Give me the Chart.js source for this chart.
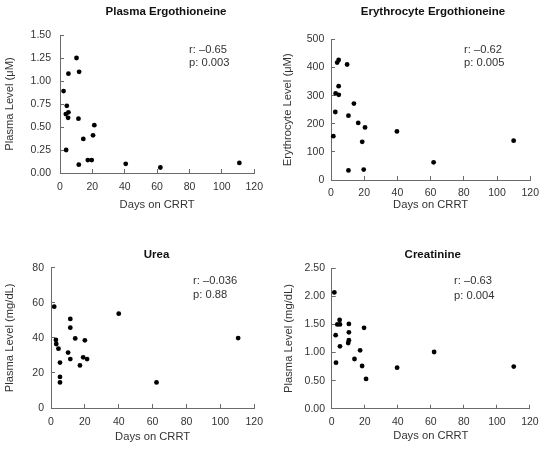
<!DOCTYPE html>
<html>
<head>
<meta charset="utf-8">
<script src="https://cdn.jsdelivr.net/npm/chart.js@4/dist/chart.umd.min.js"></script>
<style>
  html, body { margin: 0; padding: 0; background: #fff; }
  body { width: 550px; height: 449px; position: relative; overflow: hidden; }
  .panel { position: absolute; }
  canvas { display: block; }
</style>
</head>
<body>
<div class="panel" style="left:0px;top:0px;width:275px;height:215px"><canvas id="c1" width="275" height="215" style="width:275px;height:215px"></canvas></div>
<div class="panel" style="left:275px;top:0px;width:275px;height:215px"><canvas id="c2" width="275" height="215" style="width:275px;height:215px"></canvas></div>
<div class="panel" style="left:0px;top:225px;width:275px;height:224px"><canvas id="c3" width="275" height="224" style="width:275px;height:224px"></canvas></div>
<div class="panel" style="left:275px;top:225px;width:275px;height:224px"><canvas id="c4" width="275" height="224" style="width:275px;height:224px"></canvas></div>
<script>
// ---------- data ----------
const xTicks = [0, 20, 40, 60, 80, 100, 120];
const xTitle = 'Days on CRRT';

const titlePlasmaErgo = 'Plasma Ergothioneine';
const yTitlePlasmaErgo = 'Plasma Level (μM)';
const yTicksPlasmaErgo = [0, 0.25, 0.5, 0.75, 1.0, 1.25, 1.5];
const daysPlasmaErgo = [2.2, 3.8, 4.2, 3.6, 5.2, 5.0, 5.2, 10.2, 11.8, 11.4, 11.6, 14.4, 17.2, 19.6, 20.4, 21.2, 40.6, 62.0, 110.8];
const plasmaErgo     = [0.89, 0.25, 0.73, 0.64, 0.66, 0.60, 1.08, 1.25, 1.10, 0.59, 0.09, 0.37, 0.14, 0.14, 0.41, 0.52, 0.10, 0.06, 0.11];
const statsPlasmaErgo = ['r: –0.65', 'p: 0.003'];

const titleEryErgo = 'Erythrocyte Ergothioneine';
const yTitleEryErgo = 'Erythrocyte Level (μM)';
const yTicksEryErgo = [0, 100, 200, 300, 400, 500];
const daysEryErgo = [1.4, 2.6, 2.8, 3.7, 4.6, 4.6, 4.7, 9.7, 10.5, 10.5, 13.8, 16.4, 18.8, 19.7, 20.5, 39.7, 61.8, 110.0];
const eryErgo     = [156, 242, 308, 418, 427, 334, 303, 411, 229, 34, 272, 203, 136, 37, 187, 173, 63, 140];
const statsEryErgo = ['r: –0.62', 'p: 0.005'];

const titleUrea = 'Urea';
const yTitleUrea = 'Plasma Level (mg/dL)';
const yTicksUrea = [0, 20, 40, 60, 80];
const daysUrea = [1.9, 2.9, 3.1, 4.4, 5.3, 5.3, 5.3, 10.1, 11.4, 11.4, 11.4, 14.3, 17.1, 19.0, 20.0, 21.3, 40.0, 62.3, 110.5];
const urea     = [57.8, 38.8, 36.5, 33.8, 25.9, 17.7, 14.6, 31.6, 50.8, 45.8, 27.9, 39.7, 24.3, 28.9, 38.6, 27.9, 53.8, 14.6, 39.9];
const statsUrea = ['r: –0.036', 'p: 0.88'];

const titleCreat = 'Creatinine';
const yTitleCreat = 'Plasma Level (mg/dL)';
const yTicksCreat = [0, 0.5, 1.0, 1.5, 2.0, 2.5];
const daysCreat = [1.6, 2.4, 2.6, 3.4, 4.8, 5.0, 5.0, 10.4, 10.4, 10.4, 10.0, 13.8, 17.2, 18.4, 19.6, 20.8, 39.6, 62.0, 110.2];
const creat     = [2.07, 1.31, 0.82, 1.50, 1.58, 1.50, 1.11, 1.51, 1.36, 1.22, 1.17, 0.885, 1.04, 0.76, 1.44, 0.53, 0.73, 1.01, 0.75];
const statsCreat = ['r: –0.63', 'p: 0.004'];

// ---------- styling ----------
const FONT = '"Liberation Sans", Arial, Helvetica, sans-serif';
const TEXT = '#333333';
const AXIS = '#6a6a6a';

const panelText = {
  id: 'panelText',
  afterDraw(chart, args, o) {
    const ctx = chart.ctx;
    ctx.save();
    ctx.textBaseline = 'middle';
    ctx.fillStyle = '#111';
    ctx.font = 'bold 11.5px ' + FONT;
    ctx.textAlign = 'center';
    ctx.fillText(o.title, o.tx, o.ty);
    ctx.fillStyle = TEXT;
    ctx.font = '11.2px ' + FONT;
    ctx.textAlign = 'left';
    o.stats.forEach((s, i) => ctx.fillText(s, o.sx, o.sy[i]));
    ctx.restore();
  }
};

function makeChart(id, days, vals, yTicks, dec, yTitle, title, stats, L) {
  const pts = days.map((d, i) => ({ x: d, y: vals[i] }));
  return new Chart(document.getElementById(id), {
    type: 'scatter',
    data: { datasets: [{ data: pts, pointRadius: 2.4, pointHoverRadius: 2.4, backgroundColor: '#000', borderWidth: 0, showLine: false, clip: false }] },
    options: {
      responsive: false,
      animation: false,
      events: [],
      layout: { padding: { left: 0, top: L.top, right: L.right, bottom: 0 } },
      plugins: {
        legend: { display: false },
        tooltip: { enabled: false },
        title: { display: false },
        panelText: { title: title, tx: L.tx, ty: L.ty, stats: stats, sx: L.sx, sy: L.sy }
      },
      scales: {
        x: {
          type: 'linear', min: xTicks[0], max: xTicks[xTicks.length - 1],
          afterBuildTicks: s => { s.ticks = xTicks.map(v => ({ value: v })); },
          afterFit: s => { s.height = L.xh; },
          grid: { display: true, drawOnChartArea: false, drawTicks: true, tickLength: -4, tickColor: AXIS, tickWidth: 1 },
          border: { display: true, color: AXIS, width: 1 },
          ticks: { padding: L.xpad, color: TEXT, font: { family: FONT, size: 10.5 }, maxRotation: 0, callback: v => String(v) },
          title: { display: true, text: xTitle, color: TEXT, font: { family: FONT, size: 11.2 }, padding: { top: 0, bottom: L.xtb } }
        },
        y: {
          type: 'linear', min: yTicks[0], max: yTicks[yTicks.length - 1],
          afterBuildTicks: s => { s.ticks = yTicks.map(v => ({ value: v })); },
          afterFit: s => { s.width = L.yw; },
          grid: { display: true, drawOnChartArea: false, drawTicks: true, tickLength: -4, tickColor: AXIS, tickWidth: 1 },
          border: { display: true, color: AXIS, width: 1 },
          ticks: { padding: L.ypad, color: TEXT, font: { family: FONT, size: 10.5 }, callback: v => Number(v).toFixed(dec) },
          title: { display: true, text: yTitle, color: TEXT, font: { family: FONT, size: 11.2 }, padding: { top: L.ytt, bottom: 0 } }
        }
      }
    },
    plugins: [panelText]
  });
}

makeChart('c1', daysPlasmaErgo, plasmaErgo, yTicksPlasmaErgo, 2, yTitlePlasmaErgo, titlePlasmaErgo, statsPlasmaErgo,
  { top: 35, right: 15, yw: 60, xh: 42, xpad: 12, xtb: 3.4, ypad: 13, ytt: 3.4, tx: 166, ty: 12, sx: 189, sy: [49.5, 63] });
makeChart('c2', daysEryErgo, eryErgo, yTicksEryErgo, 0, yTitleEryErgo, titleEryErgo, statsEryErgo,
  { top: 39.5, right: 16, yw: 56, xh: 35, xpad: 11, xtb: 3.4, ypad: 10.7, ytt: 5.7, tx: 158, ty: 12, sx: 189, sy: [49.5, 63] });
makeChart('c3', daysUrea, urea, yTicksUrea, 0, yTitleUrea, titleUrea, statsUrea,
  { top: 42.7, right: 14, yw: 51, xh: 41, xpad: 12, xtb: 5.7, ypad: 11, ytt: 3.4, tx: 156.5, ty: 29.5, sx: 193, sy: [56, 70] });
makeChart('c4', daysCreat, creat, yTicksCreat, 2, yTitleCreat, titleCreat, statsCreat,
  { top: 43.3, right: 18.3, yw: 56.7, xh: 40.3, xpad: 11.3, xtb: 6.4, ypad: 10.7, ytt: 6.7, tx: 157.7, ty: 29.5, sx: 179, sy: [55.5, 70.5] });
</script>
</body>
</html>
